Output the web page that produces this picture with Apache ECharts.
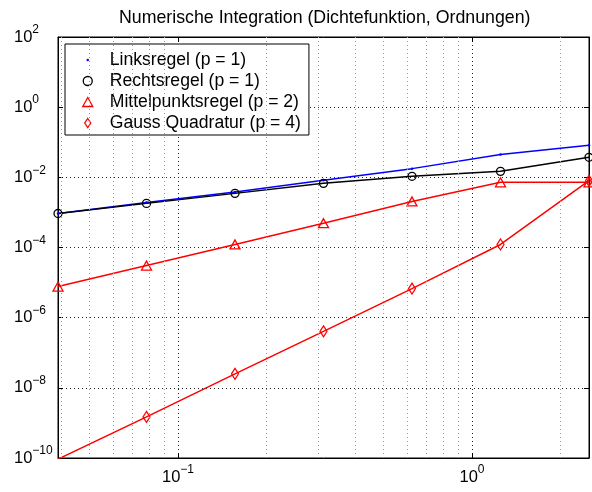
<!DOCTYPE html>
<html>
<head>
<meta charset="utf-8">
<script src="https://cdn.jsdelivr.net/npm/echarts@6/dist/echarts.min.js"></script>
<style>
  html, body { margin: 0; padding: 0; background: #fff; }
  #chart { width: 592px; height: 492px; }
</style>
</head>
<body>
<div id="chart"></div>
<script>
// Step widths h (interval length / number of panels)
const stepWidths = [0.0390625, 0.078125, 0.15625, 0.3125, 0.625, 1.25, 2.5];

// Absolute integration errors per rule
const linksErr  = [9.3e-4, 1.93e-3, 3.8e-3, 8.2e-3, 1.77e-2, 4.5e-2, 8.2e-2];
const rechtsErr = [9.3e-4, 1.81e-3, 3.49e-3, 6.74e-3, 1.07e-2, 1.48e-2, 3.73e-2];
const mittelErr = [7.7e-6, 3.06e-5, 1.22e-4, 4.94e-4, 2.06e-3, 7.2e-3, 7.2e-3];
const gaussErr  = [9.3e-11, 1.48e-9, 2.5e-8, 4.07e-7, 6.74e-6, 1.22e-4, 8.0e-3];

// Legend entries
const seriesNames = [
  'Linksregel (p = 1)',
  'Rechtsregel (p = 1)',
  'Mittelpunktsregel (p = 2)',
  'Gauss Quadratur (p = 4)'
];

// Axis ranges and minor grid positions on the h axis
const xRange = [0.0390625, 2.5];
const yRange = [1e-10, 1e2];
const xMinorGrid = [0.04, 0.05, 0.06, 0.07, 0.08, 0.09,
                    0.2, 0.3, 0.4, 0.5, 0.6, 0.7, 0.8, 0.9, 2];

const FONT = '"Liberation Sans", Arial, Helvetica, sans-serif';

function pairs(ys) { return stepWidths.map((x, i) => [x, ys[i]]); }

function powLabel(v) {
  const e = Math.round(Math.log10(v));
  const s = e < 0 ? '\u2212' + (-e) : String(e);
  return '{b|10}{e|' + s + '}';
}
const richPow = {
  b: { fontSize: 16.5, color: '#000', fontFamily: FONT },
  e: { fontSize: 12, color: '#000', fontFamily: FONT, padding: [0, 0, 14, 0] }
};

const gridLineMajor = { show: true, lineStyle: { color: '#222', width: 1, type: [1, 3] } };

const chart = echarts.init(document.getElementById('chart'), null, { renderer: 'canvas' });

const lineBase = {
  type: 'line',
  animation: false,
  emphasis: { disabled: true },
  clip: true,
  z: 3
};

chart.setOption({
  backgroundColor: '#fff',
  animation: false,
  textStyle: { fontFamily: FONT },
  title: {
    text: 'Numerische Integration (Dichtefunktion, Ordnungen)',
    left: 119,
    top: 9,
    padding: 0,
    textStyle: { fontSize: 17.75, fontWeight: 'normal', color: '#000', fontFamily: FONT }
  },
  grid: {
    left: 58, right: 3, top: 37, bottom: 34,
    show: true, borderColor: '#000', borderWidth: 1, backgroundColor: 'transparent'
  },
  legend: {
    orient: 'vertical',
    left: 65,
    top: 44,
    padding: [7, 8, 3, 15],
    itemGap: 3,
    itemWidth: 34,
    itemHeight: 9,
    backgroundColor: '#fff',
    borderColor: '#000',
    borderWidth: 1,
    selectedMode: false,
    textStyle: { fontSize: 17.6, color: '#000', fontFamily: FONT },
    data: [
      { name: seriesNames[0], icon: 'circle',
        itemStyle: { color: '#0000ff', borderColor: '#fff', borderWidth: 6.5 } },
      { name: seriesNames[1], icon: 'circle',
        itemStyle: { color: 'rgba(0,0,0,0)', borderColor: '#000', borderWidth: 1.3 } },
      { name: seriesNames[2], icon: 'path://M5,0L10,9L0,9Z',
        itemStyle: { color: 'rgba(0,0,0,0)', borderColor: '#ff0000', borderWidth: 1.3 } },
      { name: seriesNames[3], icon: 'path://M4,0L8,6L4,12L0,6Z',
        itemStyle: { color: 'rgba(0,0,0,0)', borderColor: '#ff0000', borderWidth: 1.3 } }
    ]
  },
  xAxis: [{
    type: 'log',
    logBase: 10,
    min: xRange[0],
    max: xRange[1],
    axisLine: { show: true, lineStyle: { color: '#000', width: 1 } },
    axisTick: { show: true, inside: true, length: 5, lineStyle: { color: '#000' } },
    axisLabel: {
      show: true, margin: 6, showMinLabel: false, showMaxLabel: false,
      formatter: powLabel, rich: richPow
    },
    splitLine: gridLineMajor
  }, {
    type: 'log',
    logBase: 10,
    position: 'top',
    min: xRange[0],
    max: xRange[1],
    axisLine: { show: true, lineStyle: { color: '#000', width: 1 } },
    axisTick: { show: true, inside: true, length: 5, lineStyle: { color: '#000' } },
    axisLabel: { show: false },
    splitLine: { show: false }
  }],
  yAxis: [{
    type: 'log',
    logBase: 10,
    min: yRange[0],
    max: yRange[1],
    interval: 2,
    axisLine: { show: true, lineStyle: { color: '#000', width: 1 } },
    axisTick: { show: true, inside: true, length: 5, lineStyle: { color: '#000' } },
    axisLabel: {
      show: true, margin: 44, align: 'left',
      formatter: powLabel, rich: richPow
    },
    splitLine: gridLineMajor
  }, {
    type: 'log',
    logBase: 10,
    position: 'right',
    min: yRange[0],
    max: yRange[1],
    interval: 2,
    axisLine: { show: true, lineStyle: { color: '#000', width: 1 } },
    axisTick: { show: true, inside: true, length: 5, lineStyle: { color: '#000' } },
    axisLabel: { show: false },
    splitLine: { show: false }
  }],
  series: [
    Object.assign({}, lineBase, {
      name: seriesNames[0],
      data: pairs(linksErr),
      symbol: 'circle',
      symbolSize: 2.5,
      itemStyle: { color: '#0000ff' },
      lineStyle: { color: '#0000ff', width: 1.5 },
      markLine: {
        silent: true,
        animation: false,
        symbol: ['none', 'none'],
        label: { show: false },
        lineStyle: { color: '#999', width: 1, type: [1, 3] },
        data: xMinorGrid.map(v => ({ xAxis: v }))
      }
    }),
    Object.assign({}, lineBase, {
      name: seriesNames[1],
      data: pairs(rechtsErr),
      symbol: 'circle',
      symbolSize: 8,
      itemStyle: { color: 'rgba(0,0,0,0)', borderColor: '#000', borderWidth: 1.3 },
      lineStyle: { color: '#000', width: 1.5 }
    }),
    Object.assign({}, lineBase, {
      name: seriesNames[2],
      data: pairs(mittelErr),
      symbol: 'triangle',
      symbolSize: [10, 9],
      itemStyle: { color: 'rgba(0,0,0,0)', borderColor: '#ff0000', borderWidth: 1.3 },
      lineStyle: { color: '#ff0000', width: 1.5 }
    }),
    Object.assign({}, lineBase, {
      name: seriesNames[3],
      data: pairs(gaussErr),
      symbol: 'diamond',
      symbolSize: [7, 11],
      itemStyle: { color: 'rgba(0,0,0,0)', borderColor: '#ff0000', borderWidth: 1.3 },
      lineStyle: { color: '#ff0000', width: 1.5 }
    })
  ]
});
</script>
</body>
</html>
